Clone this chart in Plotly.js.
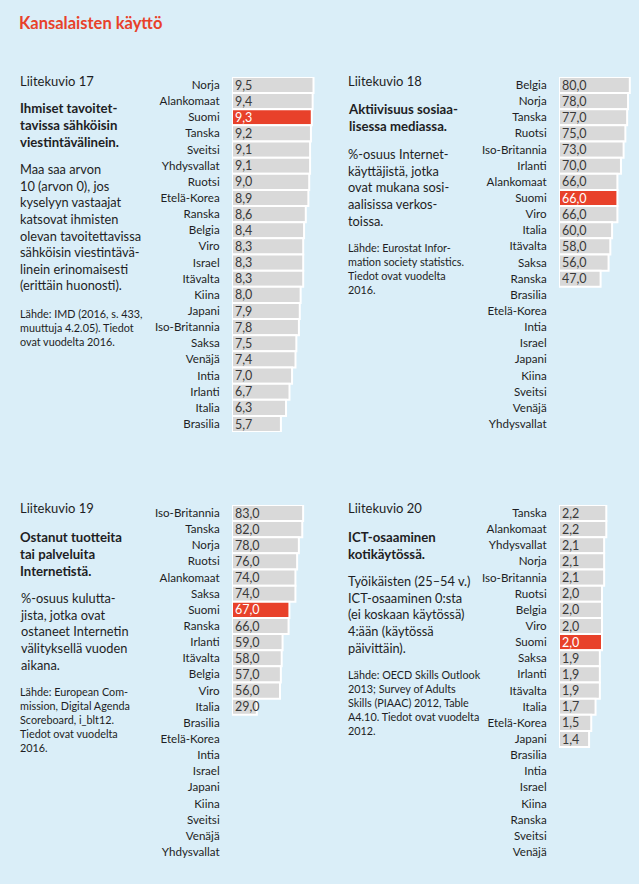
<!DOCTYPE html>
<html>
<head>
<meta charset="utf-8">
<script src="https://cdn.plot.ly/plotly-3.0.1.min.js"></script>
<style>
  html, body { margin: 0; padding: 0; background: #daeef8; }
  #chart { width: 639px; height: 884px; }
</style>
</head>
<body>
<div id="chart"></div>
<script>
// ---- Data ----
const cat17 = ["Norja","Alankomaat","Suomi","Tanska","Sveitsi","Yhdysvallat","Ruotsi","Etelä-Korea","Ranska","Belgia","Viro","Israel","Itävalta","Kiina","Japani","Iso-Britannia","Saksa","Venäjä","Intia","Irlanti","Italia","Brasilia"];
const val17 = [9.5,9.4,9.3,9.2,9.1,9.1,9.0,8.9,8.6,8.4,8.3,8.3,8.3,8.0,7.9,7.8,7.5,7.4,7.0,6.7,6.3,5.7];

const cat18 = ["Belgia","Norja","Tanska","Ruotsi","Iso-Britannia","Irlanti","Alankomaat","Suomi","Viro","Italia","Itävalta","Saksa","Ranska","Brasilia","Etelä-Korea","Intia","Israel","Japani","Kiina","Sveitsi","Venäjä","Yhdysvallat"];
const val18 = [80,78,77,75,73,70,66,66,66,60,58,56,47,null,null,null,null,null,null,null,null,null];

const cat19 = ["Iso-Britannia","Tanska","Norja","Ruotsi","Alankomaat","Saksa","Suomi","Ranska","Irlanti","Itävalta","Belgia","Viro","Italia","Brasilia","Etelä-Korea","Intia","Israel","Japani","Kiina","Sveitsi","Venäjä","Yhdysvallat"];
const val19 = [83,82,78,76,74,74,67,66,59,58,57,56,29,null,null,null,null,null,null,null,null,null];

const cat20 = ["Tanska","Alankomaat","Yhdysvallat","Norja","Iso-Britannia","Ruotsi","Belgia","Viro","Suomi","Saksa","Irlanti","Itävalta","Italia","Etelä-Korea","Japani","Brasilia","Intia","Israel","Kiina","Ranska","Sveitsi","Venäjä"];
const val20 = [2.2,2.2,2.1,2.1,2.1,2.0,2.0,2.0,2.0,1.9,1.9,1.9,1.7,1.5,1.4,null,null,null,null,null,null,null];

const highlight = "Suomi";

// ---- Styling / layout helpers ----
const W = 639, H = 884;
const FONT = "Lato, 'Open Sans', sans-serif";
const BG = "#daeef8";
const RED = "#e8412a";
const GREY = "#d9d9d9";
const TXT = "#1e1e24";

const px = x => x / W;
const py = y => 1 - y / H;

function barTrace(cats, vals, idx) {
  const s = idx === 1 ? "" : String(idx);
  return {
    type: "bar",
    orientation: "h",
    x: vals,
    y: cats,
    xaxis: "x" + s,
    yaxis: "y" + s,
    marker: {
      color: cats.map(c => c === highlight ? RED : GREY),
      line: { color: "#ffffff", width: 2 }
    },
    text: vals.map(v => v == null ? "" : v.toFixed(1).replace(".", ",")),
    textposition: "inside",
    insidetextanchor: "start",
    constraintext: "none",
    textfont: {
      family: FONT, size: 12.5,
      color: cats.map(c => c === highlight ? "#ffffff" : "#3a3a3a")
    },
    cliponaxis: false,
    hoverinfo: "skip",
    showlegend: false
  };
}

function yAxis(cats, top, bottom) {
  return {
    domain: [py(bottom), py(top)],
    type: "category",
    categoryarray: cats,
    categoryorder: "array",
    autorange: "reversed",
    showgrid: false, zeroline: false, showline: false,
    ticks: "outside", ticklen: 9, tickcolor: "rgba(0,0,0,0)",
    tickfont: { family: FONT, size: 11.6, color: TXT },
    fixedrange: true
  };
}
function xAxis(x0, x1, scale) {
  return {
    domain: [px(x0), px(x1)],
    range: [0, (x1 - x0) / scale],
    visible: false,
    fixedrange: true
  };
}

// Text blocks (paper coordinates)
function note(text, x, yc, size, bold, color) {
  return {
    xref: "paper", yref: "paper",
    x: px(x), y: py(yc),
    xanchor: "left", yanchor: "middle", align: "left",
    showarrow: false,
    text: bold ? "<b>" + text + "</b>" : text,
    font: { family: FONT, size: size, color: color || TXT }
  };
}

const annotations = [
  note("Kansalaisten käyttö", 17, 23, 16.5, true, RED),

  note("Liitekuvio 17", 18, 81, 13),
  note("Ihmiset tavoitet-<br>tavissa sähköisin<br>viestintävälinein.", 18, 125, 13.2, true),
  note("Maa saa arvon<br>10 (arvon 0), jos<br>kyselyyn vastaajat<br>katsovat ihmisten<br>olevan tavoitettavissa<br>sähköisin viestintävä-<br>linein erinomaisesti<br>(erittäin huonosti).", 18, 227.5, 12.8),
  note("Lähde: IMD (2016, s. 433,<br>muuttuja 4.2.05). Tiedot<br>ovat vuodelta 2016.", 18, 327, 10.8),

  note("Liitekuvio 18", 346, 81, 13),
  note("Aktiivisuus sosiaa-<br>lisessa mediassa.", 346, 117.5, 13.2, true),
  note("%-osuus Internet-<br>käyttäjistä, jotka<br>ovat mukana sosi-<br>aalisissa verkos-<br>toissa.", 346, 187.5, 12.8),
  note("Lähde: Eurostat Infor-<br>mation society statistics.<br>Tiedot ovat vuodelta<br>2016.", 346, 268, 10.8),

  note("Liitekuvio 19", 18, 508, 13),
  note("Ostanut tuotteita<br>tai palveluita<br>Internetistä.", 18, 553.5, 13.2, true),
  note("%-osuus kulutta-<br>jista, jotka ovat<br>ostaneet Internetin<br>välityksellä vuoden<br>aikana.", 18, 631, 12.8),
  note("Lähde: European Com-<br>mission, Digital Agenda<br>Scoreboard, i_blt12.<br>Tiedot ovat vuodelta<br>2016.", 18, 719.5, 10.8),

  note("Liitekuvio 20", 346, 508, 13),
  note("ICT-osaaminen<br>kotikäytössä.", 346, 545, 13.2, true),
  note("Työikäisten (25–54 v.)<br>ICT-osaaminen 0:sta<br>(ei koskaan käytössä)<br>4:ään (käytössä<br>päivittäin).", 346, 614.5, 12.8),
  note("Lähde: OECD Skills Outlook<br>2013; Survey of Adults<br>Skills (PIAAC) 2012, Table<br>A4.10. Tiedot ovat vuodelta<br>2012.", 346, 702, 10.8)
];

const half = 8.07;
const topA = 85 - half, botA = 424 + half;
const topB = 513 - half, botB = 852 + half;

const data = [
  barTrace(cat17, val17, 1),
  barTrace(cat18, val18, 2),
  barTrace(cat19, val19, 3),
  barTrace(cat20, val20, 4)
];

const layout = {
  width: W, height: H,
  margin: { l: 0, r: 0, t: 0, b: 0, pad: 0 },
  paper_bgcolor: BG, plot_bgcolor: "rgba(0,0,0,0)",
  bargap: 0,
  showlegend: false,
  font: { family: FONT, color: TXT },
  xaxis:  Object.assign(xAxis(232, 322, 8.58), { anchor: "y" }),
  yaxis:  Object.assign(yAxis(cat17, topA, botA), { anchor: "x" }),
  xaxis2: Object.assign(xAxis(559, 637, 0.885), { anchor: "y2" }),
  yaxis2: Object.assign(yAxis(cat18, topA, botA), { anchor: "x2" }),
  xaxis3: Object.assign(xAxis(232, 322, 0.857), { anchor: "y3" }),
  yaxis3: Object.assign(yAxis(cat19, topB, botB), { anchor: "x3" }),
  xaxis4: Object.assign(xAxis(559, 637, 21.5), { anchor: "y4" }),
  yaxis4: Object.assign(yAxis(cat20, topB, botB), { anchor: "x4" }),
  annotations: annotations
};

Plotly.newPlot("chart", data, layout, { staticPlot: true, displayModeBar: false });
</script>
</body>
</html>
